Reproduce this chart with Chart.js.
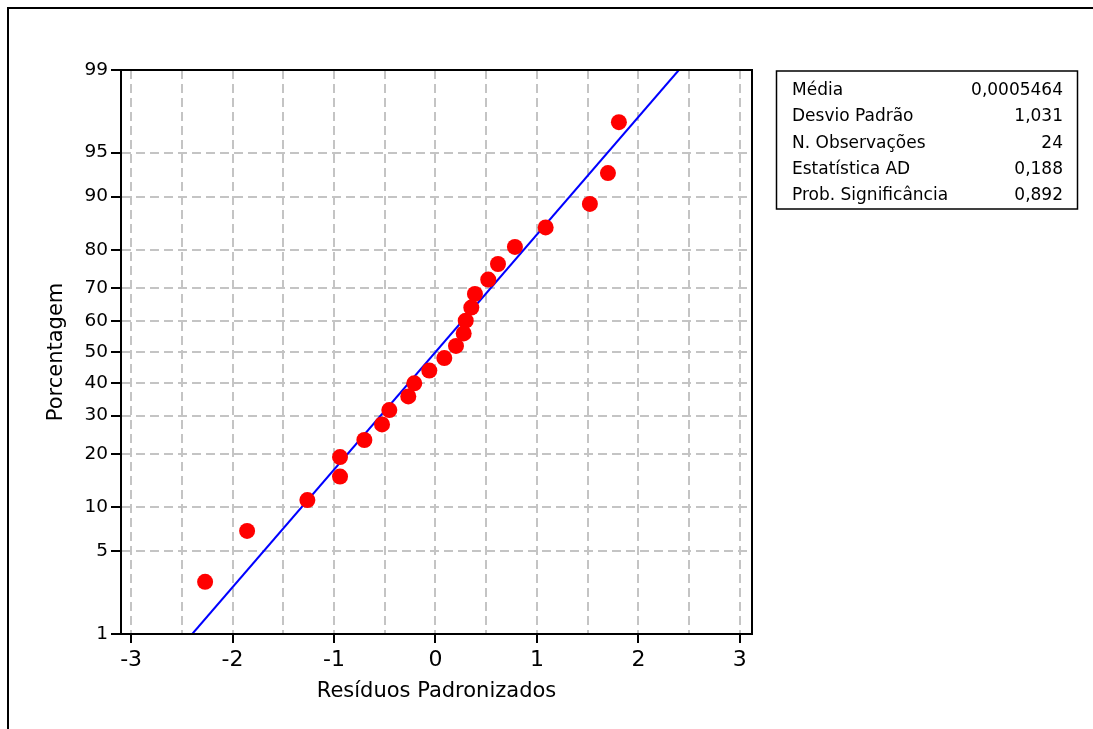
<!DOCTYPE html>
<html>
<head>
<meta charset="utf-8">
<script src="https://cdn.jsdelivr.net/npm/chart.js@4/dist/chart.umd.min.js"></script>
<style>
  html, body { margin: 0; padding: 0; background: #fff; }
  canvas { display: block; }
</style>
</head>
<body>
<canvas id="plot" width="1093" height="729"></canvas>
<script>
// Resíduos padronizados (ordenados) e a porcentagem acumulada de cada um
const residuos = [
  -2.271, -1.857, -1.263, -0.941, -0.941, -0.701, -0.527, -0.455,
  -0.268, -0.209, -0.061, 0.087, 0.202, 0.278, 0.298, 0.353,
  0.389, 0.520, 0.616, 0.783, 1.086, 1.522, 1.700, 1.808
];
const porcentagens = [
  2.9, 7.0, 11.1, 15.2, 19.3, 23.4, 27.5, 31.6, 35.7, 39.8, 43.9, 48.0,
  52.0, 56.1, 60.2, 64.3, 68.4, 72.5, 76.6, 80.7, 84.8, 88.9, 93.0, 97.1
];

// Marcas dos eixos
const pctTicks = [1, 5, 10, 20, 30, 40, 50, 60, 70, 80, 90, 95, 99];
const xGrid = [-3, -2.5, -2, -1.5, -1, -0.5, 0, 0.5, 1, 1.5, 2, 2.5, 3];

// Quadro de estatísticas
const media = 0.0005464;
const desvio = 1.031;
const statLabels = ["Média", "Desvio Padrão", "N. Observações", "Estatística AD", "Prob. Significância"];
const statValues = ["0,0005464", "1,031", "24", "0,188", "0,892"];

// Inversa da normal padrão (aproximação de Acklam)
function normInv(p) {
  const a = [-39.69683028665376, 220.9460984245205, -275.9285104469687, 138.3577518672690, -30.66479806614716, 2.506628277459239];
  const b = [-54.47609879822406, 161.5858368580409, -155.6989798598866, 66.80131188771972, -13.28068155288572];
  const c = [-0.007784894002430293, -0.3223964580411365, -2.400758277161838, -2.549732539343734, 4.374664141464968, 2.938163982698783];
  const d = [0.007784695709041462, 0.3224671290700398, 2.445134137142996, 3.754408661907416];
  const pl = 0.02425;
  let q, r;
  if (p < pl) {
    q = Math.sqrt(-2 * Math.log(p));
    return (((((c[0]*q+c[1])*q+c[2])*q+c[3])*q+c[4])*q+c[5]) / ((((d[0]*q+d[1])*q+d[2])*q+d[3])*q+1);
  }
  if (p > 1 - pl) {
    q = Math.sqrt(-2 * Math.log(1 - p));
    return -(((((c[0]*q+c[1])*q+c[2])*q+c[3])*q+c[4])*q+c[5]) / ((((d[0]*q+d[1])*q+d[2])*q+d[3])*q+1);
  }
  q = p - 0.5;
  r = q * q;
  return (((((a[0]*r+a[1])*r+a[2])*r+a[3])*r+a[4])*r+a[5])*q / (((((b[0]*r+b[1])*r+b[2])*r+b[3])*r+b[4])*r+1);
}
const zOf = (pct) => normInv(pct / 100);

const zMin = zOf(pctTicks[0]);
const zMax = zOf(pctTicks[pctTicks.length - 1]);

const pontos = residuos.map((x, i) => ({ x: x, y: zOf(porcentagens[i]) }));
const reta = [
  { x: media + desvio * zMin, y: zMin },
  { x: media + desvio * zMax, y: zMax }
];

const FONT = "'DejaVu Sans', Verdana, sans-serif";

// Moldura externa, contorno da área do gráfico e quadro de estatísticas
const molduras = {
  id: "molduras",
  afterDraw(chart) {
    const ctx = chart.ctx;
    const area = chart.chartArea;
    ctx.save();
    ctx.strokeStyle = "#000";

    // moldura externa (só topo e esquerda ficam dentro da imagem)
    ctx.lineWidth = 2;
    ctx.beginPath();
    ctx.moveTo(8, chart.height + 2);
    ctx.lineTo(8, 8);
    ctx.lineTo(chart.width + 2, 8);
    ctx.stroke();

    // contorno da área de plotagem
    ctx.lineWidth = 2;
    ctx.strokeRect(area.left, area.top, area.right - area.left, area.bottom - area.top);

    // quadro de estatísticas
    ctx.lineWidth = 1.5;
    ctx.strokeRect(776.5, 71, 301, 138);
    ctx.fillStyle = "#000";
    ctx.font = "17px " + FONT;
    ctx.textBaseline = "alphabetic";
    statLabels.forEach((lab, i) => {
      const y = 95 + i * 26.3;
      ctx.textAlign = "left";
      ctx.fillText(lab, 792, y);
      ctx.textAlign = "right";
      ctx.fillText(statValues[i], 1063, y);
    });
    ctx.restore();
  }
};

new Chart(document.getElementById("plot"), {
  type: "scatter",
  data: {
    datasets: [
      {
        label: "Resíduos",
        data: pontos,
        backgroundColor: "#ff0000",
        borderWidth: 0,
        pointRadius: 8,
        pointHoverRadius: 8,
        order: 0
      },
      {
        type: "line",
        label: "Ajuste",
        data: reta,
        borderColor: "#0000ff",
        borderWidth: 2,
        pointRadius: 0,
        fill: false,
        order: 1
      }
    ]
  },
  options: {
    responsive: false,
    animation: false,
    events: [],
    layout: { padding: { top: 70, right: 341, bottom: 0, left: 0 } },
    plugins: {
      legend: { display: false },
      tooltip: { enabled: false }
    },
    scales: {
      x: {
        type: "linear",
        min: -3.1,
        max: 3.12,
        afterBuildTicks: (s) => { s.ticks = xGrid.map((v) => ({ value: v })); },
        afterFit: (s) => { s.height = 95; },
        ticks: {
          color: "#000",
          font: { family: FONT, size: 22 },
          padding: 4,
          maxRotation: 0,
          autoSkip: false,
          callback: (v) => (Number.isInteger(v) ? String(v) : "")
        },
        grid: {
          color: "#c4c4c4",
          lineWidth: 2,
          tickLength: 9,
          tickWidth: 2,
          tickColor: (ctx) => (ctx.tick && Number.isInteger(ctx.tick.value) ? "#000" : "rgba(0,0,0,0)")
        },
        border: { display: true, color: "#000", width: 2, dash: [9, 5] },
        title: {
          display: true,
          text: "Resíduos Padronizados",
          color: "#000",
          font: { family: FONT, size: 21 },
          padding: { top: 0, bottom: 25 }
        }
      },
      y: {
        type: "linear",
        min: zMin,
        max: zMax,
        afterBuildTicks: (s) => { s.ticks = pctTicks.map((p) => ({ value: zOf(p) })); },
        afterFit: (s) => { s.width = 121; },
        ticks: {
          color: "#000",
          font: { family: FONT, size: 18.5 },
          padding: 3,
          autoSkip: false,
          callback: (v, i) => String(pctTicks[i])
        },
        grid: {
          color: "#c4c4c4",
          lineWidth: 2,
          tickLength: 10,
          tickWidth: 2,
          tickColor: "#000"
        },
        border: { display: true, color: "#000", width: 2, dash: [9, 5] },
        title: {
          display: true,
          text: "Porcentagem",
          color: "#000",
          font: { family: FONT, size: 21 },
          padding: { top: 44, bottom: 0 }
        }
      }
    }
  },
  plugins: [molduras]
});
</script>
</body>
</html>
